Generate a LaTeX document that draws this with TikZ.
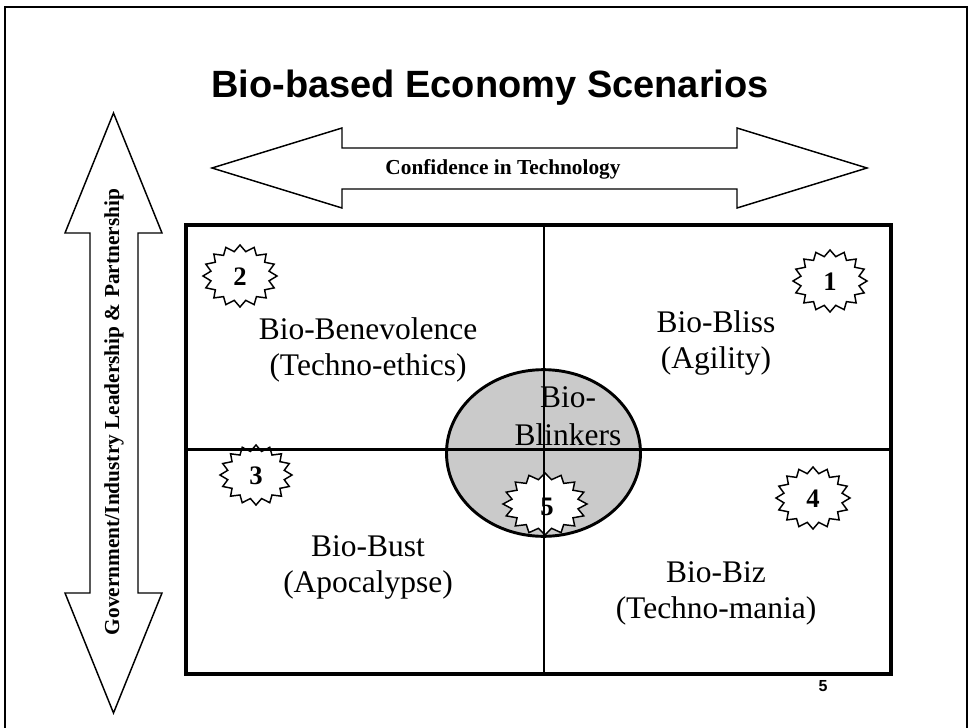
\documentclass[tikz,border=0pt]{standalone}
\usepackage{fontspec}
\setmainfont{Liberation Serif}
\newfontfamily\headfont{Liberation Sans}
\usetikzlibrary{shapes.geometric}
\definecolor{blinkgray}{RGB}{202,202,202}

% starburst outline: centre x, centre y, x radius, y radius
\newcommand\burstpath[4]{%
  \draw[burstline] plot[samples at={0,...,31}, variable=\k]
    ({#1+#3*(1-0.2*mod(\k,2))*cos(90+\k*11.25)},
     {#2+#4*(1-0.2*mod(\k,2))*sin(90+\k*11.25)}) -- cycle;
}

\begin{document}
\begin{tikzpicture}[x=0.75pt,y=-0.75pt,
  arrowshape/.style={draw=black, line width=1.1pt, fill=white, line join=miter},
  axislabel/.style={font=\fontsize{16}{19}\selectfont\bfseries, inner sep=0pt},
  quadlabel/.style={font=\fontsize{23.6}{27}\selectfont, align=center, inner sep=0pt},
  burstline/.style={draw=black, line width=1.1pt, fill=white, line join=miter},
  burstnum/.style={font=\fontsize{20}{24}\selectfont\bfseries, inner sep=0pt},
  gridline/.style={draw=black, line width=1.9pt},
]
\useasboundingbox (0,0) rectangle (971,728);
\fill[white] (0,0) rectangle (971,728);

% slide frame
\draw[line width=1.5pt] (5,740) -- (5,7) -- (967,7) -- (967,740);

% title
\node[font=\headfont\bfseries\fontsize{28.5}{34}\selectfont, anchor=base, inner sep=0pt]
  (title) at (490,97) {Bio-based Economy Scenarios};

% horizontal axis arrow
\draw[arrowshape] (212,168) -- (342,128) -- (342,148) -- (737,148) -- (737,128)
  -- (867,168) -- (737,208) -- (737,189) -- (342,189) -- (342,208) -- cycle;
\node[axislabel, anchor=base] (conf) at (503,174) {Confidence in Technology};

% vertical axis arrow
\draw[arrowshape] (113.5,113) -- (162,233) -- (138,233) -- (138,593) -- (162,593)
  -- (113.5,713) -- (65,593) -- (90,593) -- (90,233) -- (65,233) -- cycle;
\node[axislabel, rotate=90] (gov) at (114,412) {Government/Industry Leadership \& Partnership};

% central scenario
\node[ellipse, draw=black, line width=2.2pt, fill=blinkgray, inner sep=0pt,
  minimum width=145.5pt, minimum height=125pt] (ell) at (543.5,453) {};

% starbursts
\burstpath{830}{281}{37}{31}
\burstpath{240}{276}{37}{31}
\burstpath{256}{475}{36}{30}
\burstpath{813}{498}{37}{31}
\burstpath{545}{504}{42}{31}

% quadrant grid
\draw[line width=2.3pt] (186,225) rectangle (891,674);
\draw[gridline] (544,225) -- (544,674);
\draw[gridline] (186,449.5) -- (891,449.5);

% scenario numbers
\node[burstnum] (n1) at (830,282) {1};
\node[burstnum] (n2) at (240,277) {2};
\node[burstnum] (n3) at (256,476) {3};
\node[burstnum] (n4) at (813,499) {4};
\node[burstnum] (n5) at (547,507) {5};

% scenario names
\node[quadlabel] (q2) at (368,350) {Bio-Benevolence\\(Techno-ethics)};
\node[quadlabel] (q1) at (716,343) {Bio-Bliss\\(Agility)};
\node[quadlabel] (q3) at (368,567) {Bio-Bust\\(Apocalypse)};
\node[quadlabel] (q4) at (716,593) {Bio-Biz\\(Techno-mania)};
\node[quadlabel, font=\fontsize{23.6}{28.5}\selectfont] (blink) at (568,416) {Bio-\\Blinkers};

% page number
\node[font=\headfont\bfseries\fontsize{12}{14}\selectfont, anchor=base, inner sep=0pt]
  (pg) at (823,691) {5};
\end{tikzpicture}
\end{document}
